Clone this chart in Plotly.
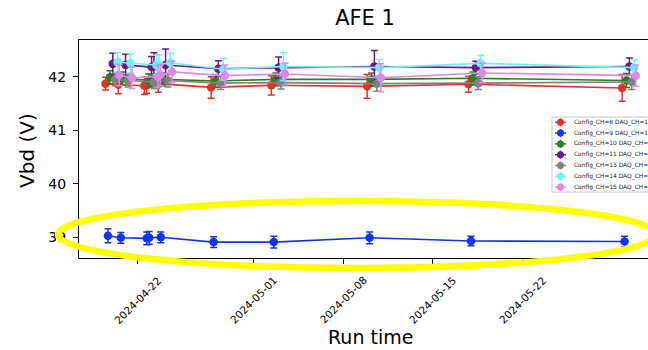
import plotly.graph_objects as go
import pandas as pd

# ---------------- data ----------------
base_times = ["2024-04-19 15:50", "2024-04-20 15:50", "2024-04-22 16:30", "2024-04-22 21:00",
              "2024-04-23 18:45", "2024-04-27 21:40", "2024-05-02 14:25", "2024-05-10 01:50",
              "2024-05-17 23:45", "2024-05-29 23:20"]

channels = ["Config_CH=8 DAQ_CH=1", "Config_CH=9 DAQ_CH=1", "Config_CH=10 DAQ_CH=",
            "Config_CH=11 DAQ_CH=", "Config_CH=13 DAQ_CH=", "Config_CH=14 DAQ_CH=",
            "Config_CH=15 DAQ_CH="]
offset_hours = [-4.6, 0, 3.7, 9, 13.5, 18, 21]
colors = ["#e8302a", "#1034e6", "#2f7d20", "#6a1a84", "#808080", "#6ff2f4", "#dc8ae6"]

vbd_ch8 = [41.87, 41.85, 41.83, 41.84, 41.87, 41.80, 41.84, 41.82, 41.86, 41.79]
vbd_ch9 = [39.03, 38.99, 38.98, 38.99, 39.00, 38.91, 38.91, 38.99, 38.93, 38.92]
vbd_ch10 = [41.99, 41.97, 41.93, 41.93, 41.95, 41.92, 41.95, 41.95, 41.97, 41.93]
vbd_ch11 = [42.24, 42.22, 42.18, 42.20, 42.22, 42.15, 42.17, 42.19, 42.17, 42.19]
vbd_ch13 = [41.95, 41.93, 41.90, 41.90, 41.93, 41.88, 41.89, 41.87, 41.88, 41.90]
vbd_ch14 = [42.27, 42.25, 42.22, 42.23, 42.26, 42.14, 42.19, 42.17, 42.25, 42.17]
vbd_ch15 = [42.03, 41.98, 42.00, 42.03, 42.09, 42.02, 42.05, 41.98, 42.07, 42.02]

err_ch8 = [0.12, 0.17, 0.16, 0.15, 0.16, 0.20, 0.18, 0.22, 0.15, 0.25]
err_ch9 = [0.13, 0.10, 0.12, 0.12, 0.10, 0.10, 0.11, 0.11, 0.09, 0.10]
err_ch10 = [0.12, 0.12, 0.12, 0.12, 0.12, 0.12, 0.12, 0.12, 0.12, 0.13]
err_ch11 = [0.20, 0.20, 0.20, 0.25, 0.30, 0.15, 0.20, 0.30, 0.12, 0.16]
err_ch13 = [0.12, 0.12, 0.12, 0.12, 0.12, 0.12, 0.12, 0.14, 0.12, 0.14]
err_ch14 = [0.18, 0.18, 0.18, 0.18, 0.18, 0.20, 0.26, 0.15, 0.15, 0.14]
err_ch15 = [0.20, 0.20, 0.20, 0.20, 0.20, 0.20, 0.20, 0.26, 0.18, 0.20]

values = [vbd_ch8, vbd_ch9, vbd_ch10, vbd_ch11, vbd_ch13, vbd_ch14, vbd_ch15]
errors = [err_ch8, err_ch9, err_ch10, err_ch11, err_ch13, err_ch14, err_ch15]

tick_dates = ["2024-04-22", "2024-05-01", "2024-05-08", "2024-05-15", "2024-05-22"]

# ---------------- figure ----------------
W, H = 648, 350
ML, MR, MT, MB = 79, 0, 40, 92
PW, PH = W - ML - MR, H - MT - MB


def px_x(px):
    return (px - ML) / PW


def px_y(py):
    return (H - MB - py) / PH


fig = go.Figure()
base = pd.to_datetime(base_times)
for name, off, col, v, e in zip(channels, offset_hours, colors, values, errors):
    t = base + pd.Timedelta(hours=off)
    fig.add_trace(go.Scatter(
        x=t, y=v, mode="lines+markers", name=name,
        line=dict(color=col, width=1.6),
        marker=dict(color=col, size=8.5),
        error_y=dict(type="data", array=e, visible=True, color=col, thickness=1.5, width=3.5),
        showlegend=False,
    ))

shapes = []
annotations = []

# legend box (manual, matplotlib-like compact legend)
shapes.append(dict(type="rect", xref="paper", yref="paper",
                   x0=px_x(552), x1=px_x(660), y0=px_y(192), y1=px_y(117),
                   line=dict(color="#cccccc", width=1), fillcolor="rgba(255,255,255,0.85)",
                   layer="above"))
for i, (name, col) in enumerate(zip(channels, colors)):
    ry = 122.3 + i * 10.8
    shapes.append(dict(type="line", xref="paper", yref="paper",
                       x0=px_x(555), x1=px_x(566), y0=px_y(ry), y1=px_y(ry),
                       line=dict(color=col, width=1.5), layer="above"))
    shapes.append(dict(type="line", xref="paper", yref="paper",
                       x0=px_x(560.5), x1=px_x(560.5), y0=px_y(ry - 4), y1=px_y(ry + 4),
                       line=dict(color=col, width=1.5), layer="above"))
    shapes.append(dict(type="circle", xref="paper", yref="paper",
                       xsizemode="pixel", ysizemode="pixel",
                       xanchor=px_x(560.5), yanchor=px_y(ry),
                       x0=-3.5, x1=3.5, y0=-3.5, y1=3.5,
                       line=dict(color=col, width=0), fillcolor=col, layer="above"))
    annotations.append(dict(text=name, xref="paper", yref="paper",
                            x=px_x(571.5), y=px_y(ry), xanchor="left", yanchor="middle",
                            showarrow=False, font=dict(size=5.9, color="#222222")))

# rotated, centred date tick labels (matplotlib style)
for d in tick_dates:
    annotations.append(dict(text=d, xref="x", yref="paper", x=d, y=px_y(300),
                            xanchor="center", yanchor="middle", textangle=-45,
                            showarrow=False, font=dict(size=10.5, color="black")))

# axis titles
annotations.append(dict(text="Run time", xref="paper", yref="paper",
                        x=px_x(370), y=px_y(337), xanchor="center", yanchor="middle",
                        showarrow=False, font=dict(size=19, color="black")))
annotations.append(dict(text="Vbd (V)", xref="paper", yref="paper",
                        x=px_x(27), y=px_y(150), xanchor="center", yanchor="middle",
                        textangle=-90, showarrow=False, font=dict(size=20, color="black")))

# yellow highlight ellipse
shapes.append(dict(type="circle", xref="paper", yref="paper",
                   x0=px_x(58), x1=px_x(656), y0=px_y(268), y1=px_y(201),
                   line=dict(color="#ffff00", width=6.5), layer="above"))

fig.update_layout(
    width=W, height=H,
    margin=dict(l=ML, r=MR, t=MT, b=MB),
    paper_bgcolor="white", plot_bgcolor="white",
    font=dict(family="DejaVu Sans", color="black"),
    title=dict(text="AFE 1", x=px_x(365), xref="paper", xanchor="center",
               y=1 - 18 / H, yanchor="middle",
               font=dict(size=21, color="black")),
    showlegend=False,
    shapes=shapes,
    annotations=annotations,
)
fig.update_xaxes(
    type="date",
    range=["2024-04-17 09:36", "2024-05-31 19:12"],
    tickvals=tick_dates, showticklabels=False,
    ticks="outside", ticklen=5, tickcolor="black",
    showline=True, linecolor="black", linewidth=1, mirror=True,
    showgrid=False, zeroline=False,
)
fig.update_yaxes(
    range=[38.613, 42.686],
    tickvals=[39, 40, 41, 42],
    tickfont=dict(size=14),
    ticks="outside", ticklen=5, tickcolor="black", ticklabelstandoff=4,
    showline=True, linecolor="black", linewidth=1, mirror=False,
    showgrid=False, zeroline=False,
)

fig.write_html("out.html")
